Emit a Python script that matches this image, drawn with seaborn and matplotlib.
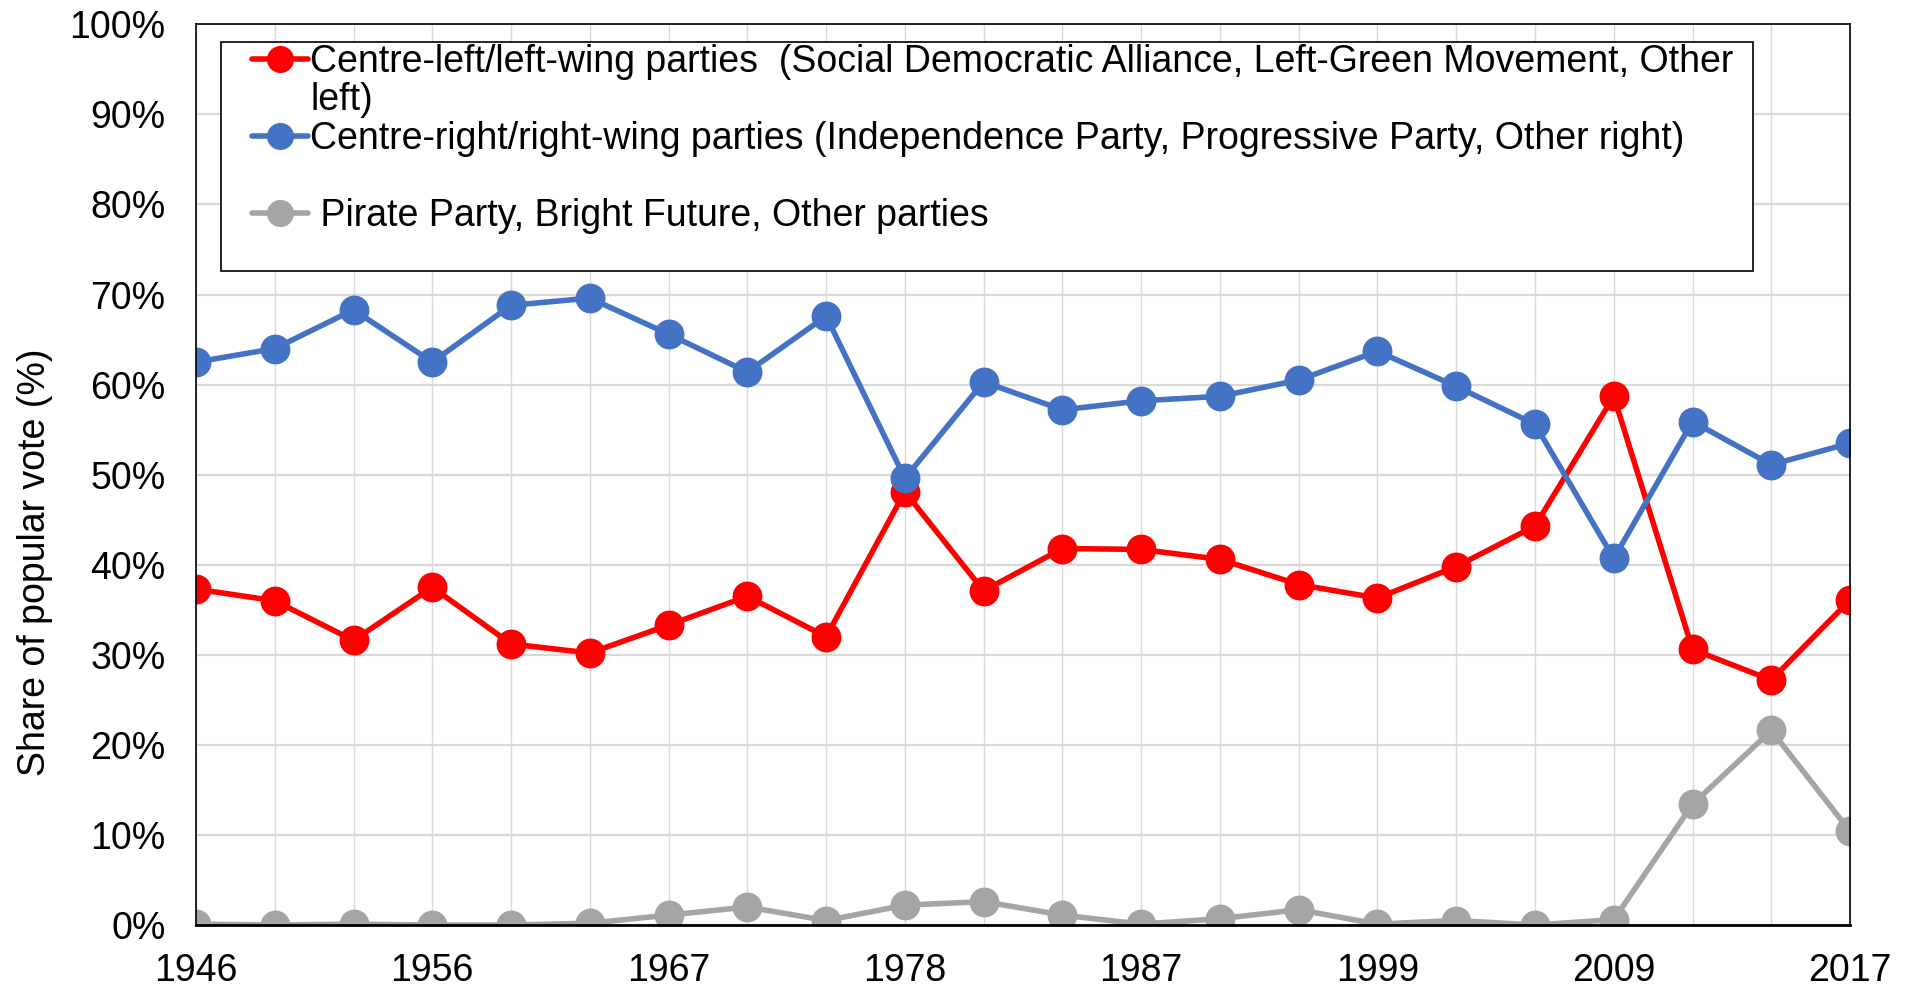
import numpy as np
import pandas as pd
import matplotlib
matplotlib.use("Agg")
import matplotlib.pyplot as plt
from matplotlib.lines import Line2D
from matplotlib.patches import Rectangle
import seaborn as sns

# Election years (categorical, evenly spaced)
years = ["1946", "1949", "1953", "1956", "1959", "1963", "1967", "1971", "1974", "1978", "1979",
         "1983", "1987", "1991", "1995", "1999", "2003", "2007", "2009", "2013", "2016", "2017"]

left_share = [37.3, 36.0, 31.6, 37.5, 31.2, 30.2, 33.3, 36.5, 32.0, 48.1, 37.1,
              41.8, 41.7, 40.6, 37.8, 36.3, 39.8, 44.3, 58.7, 30.6, 27.2, 36.1]
right_share = [62.5, 64.0, 68.3, 62.5, 68.8, 69.6, 65.6, 61.4, 67.6, 49.6, 60.3,
               57.2, 58.2, 58.7, 60.5, 63.7, 59.8, 55.6, 40.7, 55.9, 51.1, 53.5]
other_share = [0.1, 0.0, 0.1, 0.0, 0.0, 0.2, 1.1, 2.0, 0.5, 2.2, 2.6,
               1.1, 0.1, 0.7, 1.7, 0.1, 0.5, 0.0, 0.6, 13.4, 21.6, 10.4]

groups = ["left", "right", "other"]
legend_labels = {
    "left": "Centre-left/left-wing parties  (Social Democratic Alliance, Left-Green Movement, Other",
    "right": "Centre-right/right-wing parties (Independence Party, Progressive Party, Other right)",
    "other": " Pirate Party, Bright Future, Other parties",
}
colors = {"left": "#FF0000", "right": "#4472C4", "other": "#A5A5A5"}

df = pd.DataFrame({
    "year": years * 3,
    "share": left_share + right_share + other_share,
    "group": ["left"] * len(years) + ["right"] * len(years) + ["other"] * len(years),
})

sns.set_style("white")
plt.rcParams["font.family"] = ["Liberation Sans", "DejaVu Sans"]
plt.rcParams["text.color"] = "black"
plt.rcParams["axes.labelcolor"] = "black"
plt.rcParams["xtick.color"] = "black"
plt.rcParams["ytick.color"] = "black"

FS = 27
LW = 4.0
MS = 18.5

fig = plt.figure(figsize=(19.14, 9.89), dpi=100)
ax = fig.add_axes([0.1024, 0.0647, 0.8642, 0.9107])

sns.pointplot(data=df, x="year", y="share", hue="group", hue_order=groups,
              order=years, palette=colors, markers="o", linestyles="-",
              markersize=MS, linewidth=LW, errorbar=None, legend=False, ax=ax)

# axes
ax.set_xlim(0, len(years) - 1)
ax.set_ylim(0, 100)
ax.set_yticks(np.arange(0, 101, 10))
ax.set_yticklabels([f"{v}%" for v in range(0, 101, 10)])
ax.set_xticks(range(0, len(years), 3))
ax.set_xticklabels(years[::3])
ax.set_xticks(range(len(years)), minor=True)
ax.tick_params(axis="both", which="both", length=0, labelsize=FS)
ax.tick_params(axis="x", pad=20)
ax.tick_params(axis="y", pad=22)
ax.set_xlabel("")
ax.set_ylabel("Share of popular vote (%)", fontsize=FS, labelpad=12, y=0.403)

# grid
ax.grid(axis="y", which="major", color="#D9D9D9", lw=1.6)
ax.grid(axis="x", which="both", color="#D9D9D9", lw=1.0)
ax.set_axisbelow(True)
for s in ax.spines.values():
    s.set_color("black")
    s.set_linewidth(1.2)
ax.spines["bottom"].set_linewidth(2)

# legend box
ax.add_patch(Rectangle((0.0151, 0.726), 0.9263, 0.2543, transform=ax.transAxes,
                       facecolor="white", edgecolor="black", lw=1.2, zorder=4))

def handle(g):
    return Line2D([], [], color=colors[g], marker="o", lw=LW, markersize=MS)

blank = Line2D([], [], linestyle="none")
handles = [handle("left"), blank, handle("right"), blank, handle("other")]
labels = [legend_labels["left"], "left)", legend_labels["right"], "", legend_labels["other"]]
leg = ax.legend(handles, labels, loc="upper left", bbox_to_anchor=(0.0339, 0.9785),
                borderaxespad=0, borderpad=0, fontsize=FS, handlelength=1.5,
                handletextpad=0.05, labelspacing=0.07, frameon=False)
leg.set_zorder(5)

plt.savefig("out.png", dpi=100)
plt.close()
